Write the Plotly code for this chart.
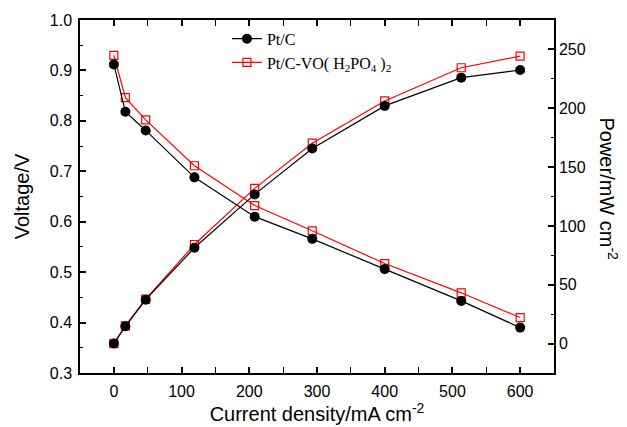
import plotly.graph_objects as go

current = [0, 17, 47, 119, 208, 293, 400, 513, 600]
v_ptc = [0.912, 0.818, 0.781, 0.688, 0.610, 0.566, 0.506, 0.443, 0.390]
v_vo = [0.930, 0.846, 0.802, 0.711, 0.632, 0.582, 0.517, 0.459, 0.410]
p_ptc = [0, 14.7, 37.3, 81.4, 126.8, 165.8, 202.0, 226.0, 232.5]
p_vo = [0, 15.0, 37.8, 84.2, 131.9, 170.3, 206.2, 234.4, 244.3]

name_ptc = "Pt/C"
name_vo = "Pt/C-VO( H<sub>2</sub>PO<sub>4</sub> )<sub>2</sub>"

fig = go.Figure()

red_line = dict(color="#ff0000", width=1.2)
red_marker = dict(symbol="square-open", size=8, color="#ff0000", line=dict(width=1.2, color="#ff0000"))
blk_line = dict(color="black", width=1.2)
blk_marker = dict(symbol="circle", size=10, color="black")

fig.add_trace(go.Scatter(x=current, y=v_vo, mode="lines+markers", name=name_vo,
                         line=red_line, marker=red_marker, legendrank=2))
fig.add_trace(go.Scatter(x=current, y=p_vo, mode="lines+markers", name=name_vo,
                         line=red_line, marker=red_marker, yaxis="y2", showlegend=False))
fig.add_trace(go.Scatter(x=current, y=v_ptc, mode="lines+markers", name=name_ptc,
                         line=blk_line, marker=blk_marker, legendrank=1))
fig.add_trace(go.Scatter(x=current, y=p_ptc, mode="lines+markers", name=name_ptc,
                         line=blk_line, marker=blk_marker, yaxis="y2", showlegend=False))

tickfont = dict(family="Liberation Sans, Arial", size=16, color="black")
titlefont = dict(family="Liberation Sans, Arial", size=20, color="black")

axis_common = dict(showgrid=False, zeroline=False, showline=True, linecolor="black", linewidth=1.5,
                   ticks="inside", ticklen=6, tickwidth=1.5, tickcolor="black", tickfont=tickfont,
                   automargin=False)

fig.update_layout(
    width=627, height=427,
    margin=dict(l=80, r=73, t=20, b=54),
    paper_bgcolor="white", plot_bgcolor="white",
    xaxis=dict(range=[-50, 650], tickvals=[0, 100, 200, 300, 400, 500, 600], mirror="allticks",
               ticklabelstandoff=3,
               minor=dict(dtick=50, tick0=0, ticks="inside", ticklen=3, tickwidth=1.2, tickcolor="black"),
               title=dict(text="Current density/mA cm<sup>-2</sup>", font=titlefont, standoff=4),
               **axis_common),
    yaxis=dict(range=[0.3, 1.0], dtick=0.1, tick0=0.3, tickformat=".1f",
               ticklabelstandoff=3,
               minor=dict(dtick=0.05, tick0=0.3, ticks="inside", ticklen=3, tickwidth=1.2, tickcolor="black"),
               title=dict(text="Voltage/V", font=titlefont, standoff=15),
               **axis_common),
    yaxis2=dict(overlaying="y", side="right", range=[-25, 275], dtick=50, tick0=0,
                minor=dict(dtick=25, tick0=0, ticks="inside", ticklen=3, tickwidth=1.2, tickcolor="black"),
                **axis_common),
    legend=dict(x=0.31, y=0.995, xanchor="left", yanchor="top", bgcolor="rgba(0,0,0,0)",
                font=dict(family="Liberation Serif, Times New Roman", size=16, color="black"),
                tracegroupgap=5),
    showlegend=True,
    annotations=[dict(text="Power/mW cm<sup>-2</sup>", xref="paper", yref="paper", x=1.116, y=0.52,
                      xanchor="center", yanchor="middle", textangle=90, showarrow=False, font=titlefont)],
)

fig.write_html("out.html")
